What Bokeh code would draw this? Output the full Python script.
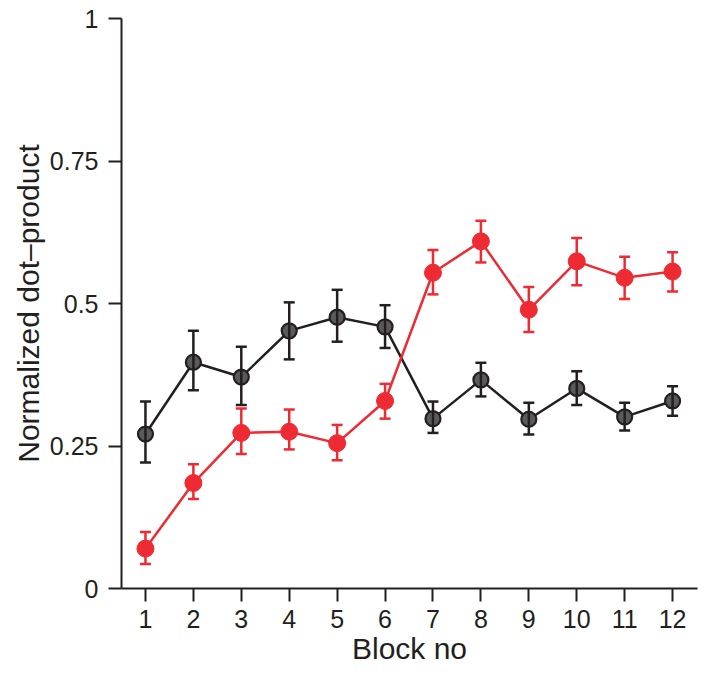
from bokeh.plotting import figure
from bokeh.models import ColumnDataSource, Whisker, TeeHead, FixedTicker, Range1d
from bokeh.embed import file_html
from bokeh.resources import INLINE

blocks = [1, 2, 3, 4, 5, 6, 7, 8, 9, 10, 11, 12]
black_mean = [0.271, 0.397, 0.371, 0.452, 0.476, 0.459, 0.298, 0.366, 0.297, 0.351, 0.301, 0.329]
black_upper = [0.328, 0.452, 0.424, 0.502, 0.524, 0.497, 0.328, 0.396, 0.326, 0.381, 0.326, 0.355]
black_lower = [0.221, 0.348, 0.322, 0.402, 0.433, 0.422, 0.273, 0.337, 0.270, 0.322, 0.277, 0.303]
red_mean = [0.070, 0.185, 0.273, 0.275, 0.255, 0.329, 0.554, 0.609, 0.489, 0.574, 0.545, 0.556]
red_upper = [0.099, 0.218, 0.316, 0.314, 0.287, 0.359, 0.594, 0.645, 0.529, 0.615, 0.582, 0.590]
red_lower = [0.043, 0.157, 0.236, 0.244, 0.225, 0.298, 0.516, 0.572, 0.450, 0.532, 0.508, 0.521]
y_ticks = [0, 0.25, 0.5, 0.75, 1]
y_tick_labels = ["0", "0.25", "0.5", "0.75", "1"]

BLACK = "#231f20"
GREY = "#5a5a5c"
RED = "#ee2a33"
FONT = "Liberation Sans"

p = figure(width=698, height=667, output_backend="svg", toolbar_location=None,
           x_range=Range1d(0.5, 12.52), y_range=Range1d(0, 1),
           min_border_left=121, min_border_right=1, min_border_top=18, min_border_bottom=72)
p.outline_line_color = None
p.xgrid.grid_line_color = None
p.ygrid.grid_line_color = None

bsrc = ColumnDataSource(dict(x=blocks, y=black_mean, up=black_upper, lo=black_lower))
rsrc = ColumnDataSource(dict(x=blocks, y=red_mean, up=red_upper, lo=red_lower))

for src, col in ((bsrc, BLACK), (rsrc, RED)):
    w = Whisker(source=src, base="x", upper="up", lower="lo", line_color=col, line_width=2.5,
                upper_head=TeeHead(size=11, line_color=col, line_width=2.5),
                lower_head=TeeHead(size=11, line_color=col, line_width=2.5), level="glyph")
    p.add_layout(w)

p.line("x", "y", source=bsrc, line_color=BLACK, line_width=2.5)
p.scatter("x", "y", source=bsrc, size=15, fill_color=GREY, line_color=BLACK, line_width=2.2)
p.line("x", "y", source=rsrc, line_color=RED, line_width=2.5)
p.scatter("x", "y", source=rsrc, size=17, fill_color=RED, line_color=RED, line_width=1)

p.xaxis.ticker = FixedTicker(ticks=blocks)
p.yaxis.ticker = FixedTicker(ticks=y_ticks)
p.yaxis.major_label_overrides = {t: l for t, l in zip(y_ticks, y_tick_labels)}
p.xaxis.axis_label = "Block no"
p.yaxis.axis_label = "Normalized dot\u2013product"

for ax in (p.xaxis, p.yaxis):
    ax.axis_line_color = BLACK
    ax.axis_line_width = 2
    ax.major_tick_line_color = BLACK
    ax.major_tick_line_width = 2
    ax.major_tick_out = 13
    ax.major_tick_in = 0
    ax.minor_tick_line_color = None
    ax.major_label_text_font = FONT
    ax.major_label_text_font_size = "25px"
    ax.major_label_text_color = BLACK
    ax.axis_label_text_font = FONT
    ax.axis_label_text_font_size = "30px"
    ax.axis_label_text_font_style = "normal"
    ax.axis_label_text_color = BLACK
p.xaxis.major_label_standoff = 8
p.yaxis.major_label_standoff = 10
p.xaxis.axis_label_standoff = 1
p.yaxis.axis_label_standoff = 2

open("out.html", "w").write(file_html(p, INLINE))
